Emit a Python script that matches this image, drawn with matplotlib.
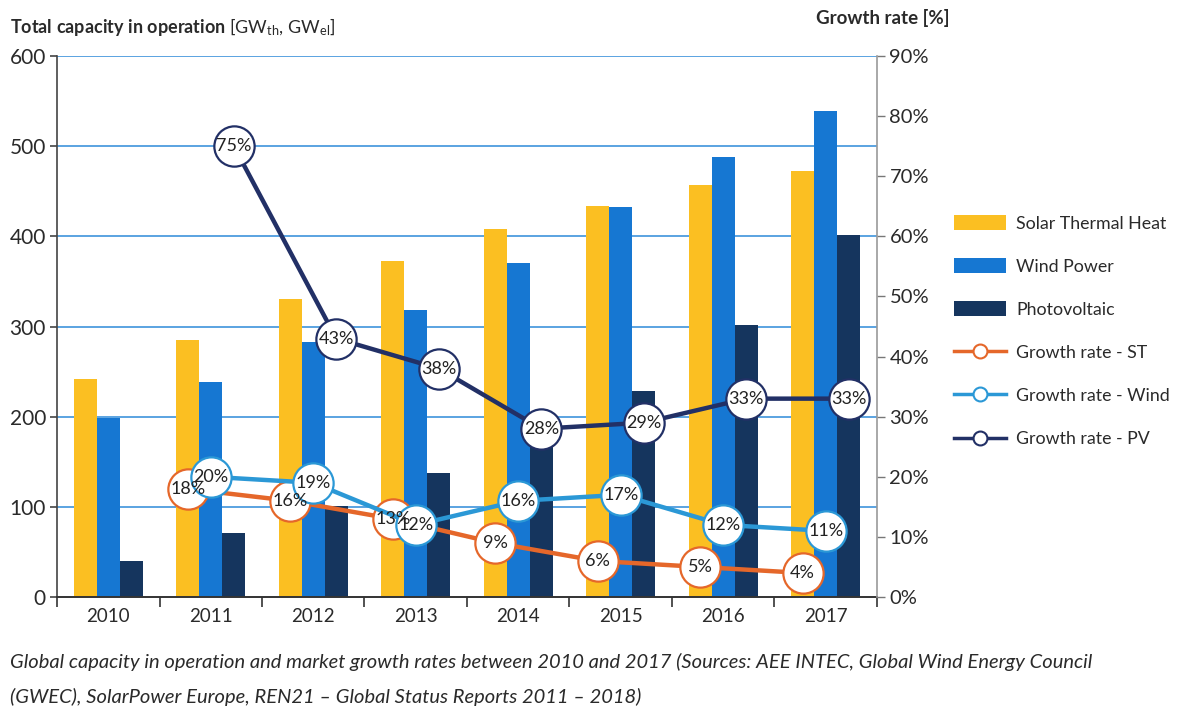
import matplotlib
matplotlib.use("Agg")
import matplotlib.pyplot as plt
import numpy as np
from matplotlib.patches import Patch
from matplotlib.lines import Line2D

years = ["2010", "2011", "2012", "2013", "2014", "2015", "2016", "2017"]
solar_thermal = [242, 285, 331, 373, 408, 434, 457, 472]
wind_power = [199, 238, 283, 318, 370, 433, 488, 539]
photovoltaic = [40, 71, 101, 138, 178, 228, 302, 402]

growth_years = ["2011", "2012", "2013", "2014", "2015", "2016", "2017"]
growth_st = [18, 16, 13, 9, 6, 5, 4]
growth_wind = [20, 19, 12, 16, 17, 12, 11]
growth_pv = [75, 43, 38, 28, 29, 33, 33]

left_ticks = [0, 100, 200, 300, 400, 500, 600]
right_ticks = [0, 10, 20, 30, 40, 50, 60, 70, 80, 90]

C_ST = "#FBBF22"
C_WIND = "#1677D2"
C_PV = "#15355E"
C_GST = "#E5672A"
C_GWIND = "#2B98D6"
C_GPV = "#223066"
C_GRID = "#2E8AD8"
TXT = "#2a2a2a"

plt.rcParams["font.family"] = ["Lato", "DejaVu Sans"]
plt.rcParams["mathtext.fontset"] = "custom"
plt.rcParams["mathtext.rm"] = "Lato"
plt.rcParams["mathtext.it"] = "Lato:italic"
plt.rcParams["mathtext.bf"] = "Lato:bold"

fig = plt.figure(figsize=(11.83, 7.18), dpi=100)
ax = fig.add_axes([0.0482, 0.1685, 0.6931, 0.7535])

x = np.arange(len(years))
bw = 0.225
ax.bar(x - bw, solar_thermal, bw, color=C_ST, zorder=2)
ax.bar(x, wind_power, bw, color=C_WIND, zorder=2)
ax.bar(x + bw, photovoltaic, bw, color=C_PV, zorder=2)

ax.set_xlim(-0.5, len(years) - 0.5)
ax.set_ylim(0, 600)
ax.set_yticks(left_ticks)
ax.set_yticklabels([str(t) for t in left_ticks], fontsize=15, color=TXT)
for t in left_ticks[1:]:
    ax.axhline(t, color=C_GRID, lw=1.1, zorder=1)

ax.set_xticks(x)
ax.set_xticklabels(years, fontsize=13.5, color=TXT)
ax.tick_params(axis="x", which="major", length=0, pad=8)
ax.set_xticks(np.arange(-0.5, len(years), 1.0), minor=True)
ax.tick_params(axis="x", which="minor", length=7, width=1.2, color="#333333", direction="out")
ax.tick_params(axis="y", length=5, width=1.2, color="#444444", direction="out", pad=3)

for s in ["top", "right"]:
    ax.spines[s].set_visible(False)
ax.spines["left"].set_color("#444444")
ax.spines["left"].set_linewidth(1.2)
ax.spines["bottom"].set_color("#333333")
ax.spines["bottom"].set_linewidth(1.4)

ax2 = ax.twinx()
ax2.set_ylim(0, 90)
ax2.set_yticks(right_ticks)
ax2.set_yticklabels([f"{t}%" for t in right_ticks], fontsize=14.5, color=TXT)
ax2.tick_params(axis="y", length=6, width=1.0, color="#777777", direction="out", pad=3)
for s in ["top", "left", "bottom"]:
    ax2.spines[s].set_visible(False)
ax2.spines["right"].set_color("#999999")
ax2.spines["right"].set_linewidth(1.2)

gx = np.array([years.index(y) for y in growth_years], dtype=float)


def growth_line(vals, color, offset):
    xs = gx + offset
    ax2.plot(xs, vals, color=color, lw=3.2, marker="o", markersize=29,
             markerfacecolor="white", markeredgecolor=color, markeredgewidth=1.6,
             zorder=3, clip_on=False)
    for xi, v in zip(xs, vals):
        ax2.text(xi, v, f"{v}%", ha="center", va="center", fontsize=13,
                 color="#222222", zorder=4)


growth_line(growth_st, C_GST, -bw)
growth_line(growth_wind, C_GWIND, 0.0)
growth_line(growth_pv, C_GPV, bw)

fig.text(10 / 1183, 1 - 27 / 718, r"$\mathbf{Total\ capacity\ in\ operation}$ [GW$_{\mathrm{th}}$, GW$_{\mathrm{el}}$]",
         fontsize=13, color=TXT, ha="left", va="center")
fig.text(950 / 1183, 1 - 18 / 718, "Growth rate [%]", fontsize=13.5, fontweight="bold",
         color=TXT, ha="right", va="center")

handles = [
    Patch(facecolor=C_ST, edgecolor="none"),
    Patch(facecolor=C_WIND, edgecolor="none"),
    Patch(facecolor=C_PV, edgecolor="none"),
    Line2D([], [], color=C_GST, lw=2.5, marker="o", markersize=10,
           markerfacecolor="white", markeredgecolor=C_GST, markeredgewidth=1.5),
    Line2D([], [], color=C_GWIND, lw=2.5, marker="o", markersize=10,
           markerfacecolor="white", markeredgecolor=C_GWIND, markeredgewidth=1.5),
    Line2D([], [], color=C_GPV, lw=2.5, marker="o", markersize=10,
           markerfacecolor="white", markeredgecolor=C_GPV, markeredgewidth=1.5),
]
labels = ["Solar Thermal Heat", "Wind Power", "Photovoltaic",
          "Growth rate - ST", "Growth rate - Wind", "Growth rate - PV"]
fig.legend(handles, labels, loc="upper left", bbox_to_anchor=(938 / 1183, 1 - 199 / 718),
           frameon=False, fontsize=12.8, handlelength=2.9, handleheight=0.9,
           labelspacing=1.5, handletextpad=0.6, labelcolor=TXT)

fig.text(10 / 1183, 1 - 662 / 718,
         "Global capacity in operation and market growth rates between 2010 and 2017 (Sources: AEE INTEC, Global Wind Energy Council",
         fontsize=14.5, style="italic", color=TXT, ha="left", va="center")
fig.text(10 / 1183, 1 - 697 / 718,
         "(GWEC), SolarPower Europe, REN21 \u2013 Global Status Reports 2011 \u2013 2018)",
         fontsize=14.5, style="italic", color=TXT, ha="left", va="center")

fig.savefig("out.png", dpi=100, facecolor="white")
